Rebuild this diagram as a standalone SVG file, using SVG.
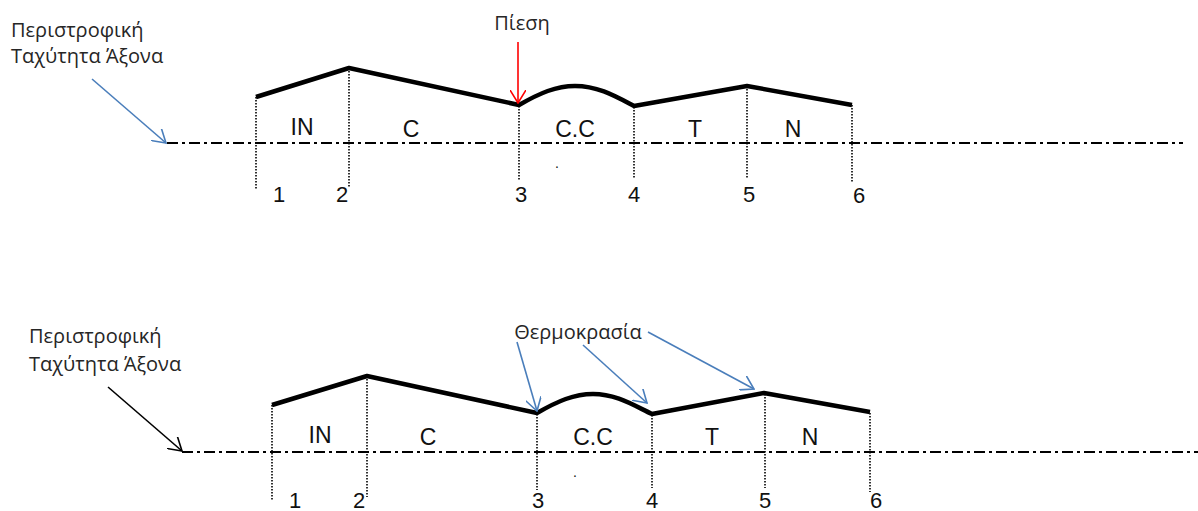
<svg xmlns="http://www.w3.org/2000/svg" width="1198" height="511" viewBox="0 0 1198 511">
<style>
.gr{font-family:"Open Sans","Liberation Sans",sans-serif;font-size:20px;fill:#262626}
.lb{font-family:"Liberation Sans",Arial,sans-serif;font-size:23px;fill:#111;text-anchor:middle}
.num{font-family:"Liberation Sans",Arial,sans-serif;font-size:22px;fill:#111;text-anchor:middle}
.axis{stroke:#000;stroke-width:2;stroke-dasharray:11 4 3 4;fill:none}
.prof{stroke:#000;stroke-width:4.5;fill:none;stroke-linejoin:round}
.vd{stroke:#000;stroke-width:1.6;stroke-dasharray:1.6 1.4;fill:none}
.blue{stroke:#4a7ebb;stroke-width:1.6;fill:none}
.red{stroke:#ff0000;stroke-width:1.6;fill:none}
.blk{stroke:#000;stroke-width:1.6;fill:none}
</style>
<defs>
<marker id="ab" viewBox="0 0 14 16" refX="13" refY="8" markerWidth="14" markerHeight="16" markerUnits="userSpaceOnUse" orient="auto"><path d="M0,0 L13,8 L0,16" fill="none" stroke="#4a7ebb" stroke-width="1.6"/></marker>
<marker id="ar" viewBox="0 0 14 16" refX="13" refY="8" markerWidth="14" markerHeight="16" markerUnits="userSpaceOnUse" orient="auto"><path d="M0,0 L13,8 L0,16" fill="none" stroke="#ff0000" stroke-width="1.6"/></marker>
<marker id="ak" viewBox="0 0 14 16" refX="13" refY="8" markerWidth="14" markerHeight="16" markerUnits="userSpaceOnUse" orient="auto"><path d="M0,0 L13,8 L0,16" fill="none" stroke="#000" stroke-width="1.6"/></marker>
</defs>

<g id="top-diagram">
  <g id="top-axis"><line class="axis" x1="167" y1="143" x2="1183" y2="143"/></g>
  <g id="top-profile"><path class="prof" d="M256,97 L349,68 L519,105 C540,93 556,86 575,86 C598,86 615,96 634,106 L747,86 L852,105"/></g>
  <g id="top-stations">
    <line class="vd" x1="256" y1="97" x2="256" y2="190"/>
    <line class="vd" x1="349" y1="68" x2="349" y2="188"/>
    <line class="vd" x1="519" y1="106" x2="519" y2="180"/>
    <line class="vd" x1="634" y1="107" x2="634" y2="178"/>
    <line class="vd" x1="747" y1="86" x2="747" y2="178"/>
    <line class="vd" x1="852" y1="105" x2="852" y2="182"/>
  </g>
  <g id="top-labels">
    <text class="lb" x="302" y="135">IN</text>
    <text class="lb" x="411" y="137">C</text>
    <text class="lb" x="575" y="137">C.C</text>
    <text class="lb" x="695" y="137">T</text>
    <text class="lb" x="793" y="137">N</text>
    <text class="lb" x="557" y="168" style="font-size:14px">.</text>
  </g>
  <g id="top-numbers">
    <text class="num" x="279" y="202">1</text>
    <text class="num" x="342" y="202">2</text>
    <text class="num" x="521" y="202">3</text>
    <text class="num" x="634" y="202">4</text>
    <text class="num" x="749" y="202">5</text>
    <text class="num" x="859" y="203">6</text>
  </g>
  <g id="top-speed-label">
    <text class="gr" x="11" y="37">Περιστροφική</text>
    <text class="gr" x="11" y="63">Ταχύτητα Άξονα</text>
  </g>
  <g id="top-pressure-label">
    <text class="gr" x="522" y="30" text-anchor="middle">Πίεση</text>
  </g>
  <g id="top-connectors">
    <line class="blue" x1="92" y1="79" x2="166" y2="143" marker-end="url(#ab)"/>
    <line class="red" x1="518" y1="42" x2="518" y2="103" marker-end="url(#ar)"/>
  </g>
</g>

<g id="bottom-diagram">
  <g id="bottom-axis"><line class="axis" x1="182" y1="452" x2="1198" y2="452"/></g>
  <g id="bottom-profile"><path class="prof" d="M272,405 L367,376 L537,413 C558,401 574,394 593,394 C616,394 633,405 652,414 L764,393 L870,412"/></g>
  <g id="bottom-stations">
    <line class="vd" x1="272" y1="405" x2="272" y2="500"/>
    <line class="vd" x1="367" y1="376" x2="367" y2="497"/>
    <line class="vd" x1="537" y1="414" x2="537" y2="490"/>
    <line class="vd" x1="652" y1="415" x2="652" y2="488"/>
    <line class="vd" x1="765" y1="394" x2="765" y2="488"/>
    <line class="vd" x1="870" y1="413" x2="870" y2="492"/>
  </g>
  <g id="bottom-labels">
    <text class="lb" x="320" y="443">IN</text>
    <text class="lb" x="428" y="445">C</text>
    <text class="lb" x="593" y="445">C.C</text>
    <text class="lb" x="712" y="445">T</text>
    <text class="lb" x="810" y="445">N</text>
    <text class="lb" x="575" y="477" style="font-size:14px">.</text>
  </g>
  <g id="bottom-numbers">
    <text class="num" x="295" y="508">1</text>
    <text class="num" x="359" y="508">2</text>
    <text class="num" x="538" y="508">3</text>
    <text class="num" x="652" y="508">4</text>
    <text class="num" x="765" y="508">5</text>
    <text class="num" x="876" y="508">6</text>
  </g>
  <g id="bottom-speed-label">
    <text class="gr" x="29" y="343">Περιστροφική</text>
    <text class="gr" x="29" y="371">Ταχύτητα Άξονα</text>
  </g>
  <g id="bottom-temp-label">
    <text class="gr" x="578" y="339" text-anchor="middle">Θερμοκρασία</text>
  </g>
  <g id="bottom-connectors">
    <line class="blk" x1="108" y1="387" x2="182" y2="451" marker-end="url(#ak)"/>
    <line class="blue" x1="517" y1="342" x2="537" y2="411" marker-end="url(#ab)"/>
    <line class="blue" x1="583" y1="345" x2="647" y2="403" marker-end="url(#ab)"/>
    <line class="blue" x1="648" y1="332" x2="754" y2="389" marker-end="url(#ab)"/>
  </g>
</g>
</svg>
